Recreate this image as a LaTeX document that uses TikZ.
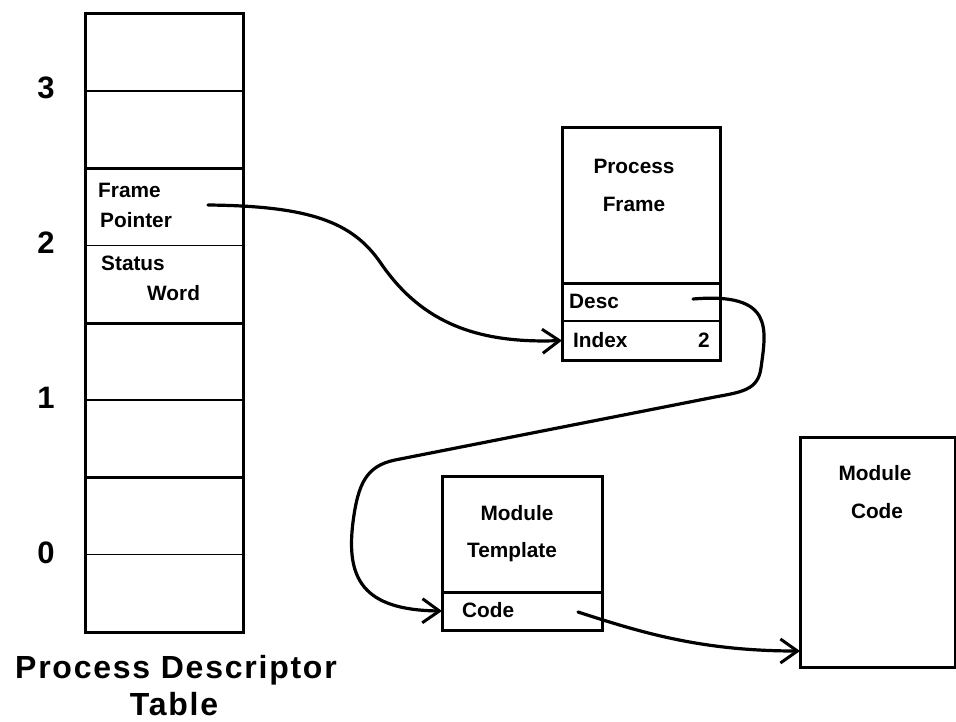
\documentclass[tikz,border=0pt]{standalone}
\usepackage{fontspec}
\setmainfont{Liberation Sans}
\usetikzlibrary{arrows.meta,calc}
\begin{document}
\begin{tikzpicture}[x=1pt,y=-1pt,
  cellbox/.style={draw, line width=1.6pt, inner sep=0pt, outer sep=0pt,
    anchor=north west, minimum width=#1pt},
  cellbox/.default=158,
  heavy/.style={line width=3pt},
  celltext/.style={inner sep=0pt, font=\fontsize{20.8}{24}\selectfont\bfseries},
  slotnum/.style={inner sep=0pt, anchor=base, font=\fontsize{31}{34}\selectfont\bfseries},
  captext/.style={inner sep=0pt, anchor=base,
    font=\fontsize{32}{36}\selectfont\bfseries\addfontfeature{LetterSpace=5.5}},
  conn/.style={line width=3.2pt, line cap=round,
    -{Straight Barb[length=17pt,width=24pt,line width=3pt]}}]
\useasboundingbox (0,0) rectangle (956,721);

% ---- process descriptor table: eight slots, two per process
\foreach \i/\y in {7/13,6/91,5/168,4/245.5,3/323,2/400,1/477,0/554.5}
  \node[cellbox, minimum height=77.5pt] (row\i) at (85,\y) {};
\draw[heavy] (row7.north west) rectangle (row0.south east);
\foreach \i in {5,3,1}
  \draw[heavy] (row\i.north west) -- (row\i.north east);

\node[slotnum] (n3) at (46,98) {3};
\node[slotnum] (n2) at (46,253) {2};
\node[slotnum] (n1) at (46,408) {1};
\node[slotnum] (n0) at (46,563) {0};

\node[celltext, anchor=base west] (fpa) at (98,197) {Frame};
\node[celltext, anchor=base west] (fpb) at (100,227) {Pointer};
\node[celltext, anchor=base west] (swa) at (101,270) {Status};
\node[celltext, anchor=base west] (swb) at (147,300) {Word};
\coordinate (fpstart) at (208,205);

\node[captext] (pdta) at (176,678) {Process Descriptor};
\node[captext] (pdtb) at (174,715) {Table};

% ---- process frame
\node[cellbox, minimum height=156pt] (pf) at (562,127) {};
\node[cellbox, minimum height=38pt] (desc) at (562,283) {};
\node[cellbox, minimum height=39pt] (idx) at (562,321) {};
\draw[heavy] (pf.north west) rectangle (idx.south east);
\draw[heavy] (desc.north west) -- (desc.north east);
\node[celltext, anchor=base] (pfa) at (634,173) {Process};
\node[celltext, anchor=base] (pfb) at (634,211) {Frame};
\node[celltext, anchor=base west] (desct) at (569,308) {Desc};
\node[celltext, anchor=base west] (idxt) at (573,347) {Index};
\node[celltext, anchor=base east] (idxv) at (710,347) {2};
\coordinate (descstart) at (693,299);

% ---- module template
\node[cellbox=160, minimum height=116pt] (mt) at (442,476) {};
\node[cellbox=160, minimum height=38pt] (code) at (442,592) {};
\draw[heavy] (mt.north west) rectangle (code.south east);
\draw[heavy] (code.north west) -- (code.north east);
\node[celltext, anchor=base] (mta) at (517,520) {Module};
\node[celltext, anchor=base] (mtb) at (512,557) {Template};
\node[celltext, anchor=base west] (codet) at (462,617) {Code};
\coordinate (codestart) at (578,612);

% ---- module code
\node[cellbox=155, minimum height=230pt, line width=3pt] (mc) at (800,437) {};
\node[celltext, anchor=base] (mca) at (875,480) {Module};
\node[celltext, anchor=base] (mcb) at (877,518) {Code};
\coordinate (mcin) at ($(mc.south west)+(0,-16)$);

% ---- pointers
\draw[conn] (fpstart) .. controls (310,206) and (352,222) .. (380,262)
  .. controls (418,318) and (470,344) .. (idx.west);
\draw[conn] (descstart) .. controls (775,292) and (766,330) .. (761,368)
  .. controls (758,390) and (742,392) .. (715,397)
  -- (395,460)
  .. controls (366,466) and (358,484) .. (353,522)
  .. controls (346,578) and (362,610) .. (code.west);
\draw[conn] (codestart) .. controls (640,632) and (700,651) .. (mcin);
\end{tikzpicture}
\end{document}
